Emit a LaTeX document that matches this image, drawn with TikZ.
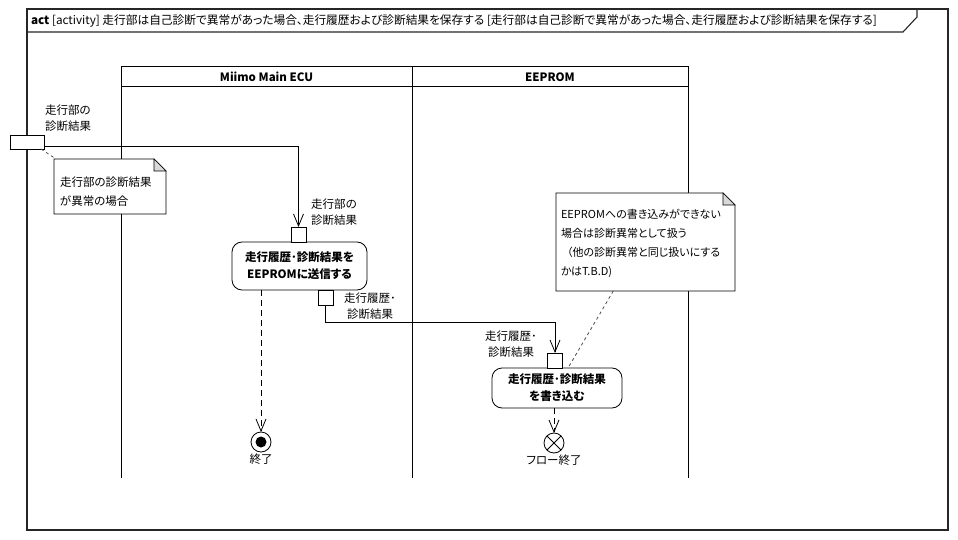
\documentclass[tikz,border=0pt]{standalone}
\usepackage{fontspec}
\setmainfont{Noto Sans CJK JP}[CharacterWidth=AlternateProportional]
\usetikzlibrary{arrows.meta,calc}

\begin{document}
\begin{tikzpicture}[x=1pt,y=-1pt,
  every node/.style={inner sep=0pt, outer sep=0pt},
  txt/.style={font=\fontsize{11.5}{16}\selectfont, align=center},
  notetxt/.style={font=\fontsize{11.5}{19}\selectfont, align=left},
  titletxt/.style={font=\fontsize{11.7}{14}\selectfont},
  lanehead/.style={font=\bfseries\fontsize{11.5}{14}\selectfont},
  frameline/.style={line width=1.1pt, black!85},
  laneline/.style={line width=1pt},
  pinbox/.style={draw, fill=white, line width=0.8pt, minimum width=15pt, minimum height=15pt},
  actionbox/.style={draw, fill=white, line width=0.8pt, rounded corners=10pt,
    align=center, font=\bfseries\fontsize{11.5}{17}\selectfont},
  notebg/.style={draw=none},
  flow/.style={line width=0.8pt, -{Straight Barb[length=12pt,width=10pt,line width=0.8pt]}},
  flowdash/.style={flow, dash pattern=on 6pt off 4pt},
  notelink/.style={line width=0.8pt, black!70, dash pattern=on 3pt off 3pt},
  finalnode/.style={draw, circle, fill=white, line width=0.8pt, minimum size=20pt}
]
\useasboundingbox (0,0) rectangle (958,540);

% diagram frame with its name tab
\draw[frameline] (27,9) rectangle (948,530);
\draw[frameline] (27,32) -- (903,32) -- (917,17) -- (917,9);
\node[titletxt, anchor=west] (title) at (31,21)
  {\textbf{act} [activity] 走行部は自己診断で異常があった場合、走行履歴および診断結果を保存する [走行部は自己診断で異常があった場合、走行履歴および診断結果を保存する]};

% swimlanes
\draw[laneline] (121,67) rectangle (688,87);
\draw[laneline] (121,87) -- (121,478);
\draw[laneline] (412,67) -- (412,478);
\draw[laneline] (688,87) -- (688,478);
\node[lanehead] (laneA) at (266.5,77) {Miimo Main ECU};
\node[lanehead] (laneB) at (550,77) {EEPROM};

% incoming object pin on the frame
\node[pinbox, minimum width=34pt, minimum height=14pt] (pin0) at (27,142) {};
\node[txt, align=left] (pin0l) at (68,118) {走行部の\\診断結果};

% note 1
\node[notebg, minimum width=112pt, minimum height=55pt, anchor=north west] (n1) at (54,159) {};
\draw[line width=0.8pt, fill=white] (n1.south west) -- (n1.north west) -- ([xshift=-12pt]n1.north east)
  -- ([yshift=-12pt]n1.north east) -- (n1.south east) -- cycle;
\draw[line width=0.6pt, fill=black!15] ([xshift=-12pt]n1.north east) -- ([xshift=-12pt,yshift=-12pt]n1.north east)
  -- ([yshift=-12pt]n1.north east) -- cycle;
\node[notetxt, anchor=west] (n1t) at (60,191.5) {走行部の診断結果\\が異常の場合};

% note 2
\node[notebg, minimum width=179pt, minimum height=98pt, anchor=north west] (n2) at (556,193) {};
\draw[line width=0.8pt, fill=white] (n2.south west) -- (n2.north west) -- ([xshift=-12pt]n2.north east)
  -- ([yshift=-12pt]n2.north east) -- (n2.south east) -- cycle;
\draw[line width=0.6pt, fill=black!15] ([xshift=-12pt]n2.north east) -- ([xshift=-12pt,yshift=-12pt]n2.north east)
  -- ([yshift=-12pt]n2.north east) -- cycle;
\node[notetxt, font=\fontsize{11}{19}\selectfont, anchor=west] (n2t) at (561,243.5)
  {EEPROMへの書き込みができない\\場合は診断異常として扱う\\\hspace*{6pt}（他の診断異常と同じ扱いにする\\かはT.B.D)};

% actions
\node[actionbox, minimum width=135pt, minimum height=48pt] (act1) at (299.5,266)
  {走行履歴･診断結果を\\EEPROMに送信する};
\node[actionbox, minimum width=130pt, minimum height=40pt] (act2) at (557,388)
  {走行履歴･診断結果\\を書き込む};

% pins of the actions
\node[pinbox] (pinA) at (298.5,234.5) {};
\node[txt] (pinAl) at (334,212) {走行部の\\診断結果};
\node[pinbox] (pinB) at (325.5,297.5) {};
\node[txt] (pinBl) at (370,306) {走行履歴･\\診断結果};
\node[pinbox] (pinC) at (555,360.5) {};
\node[txt] (pinCl) at (511,344) {走行履歴･\\診断結果};

% final nodes
\node[finalnode] (fin) at (261,442) {};
\fill (fin.center) circle (5.5);
\node[txt] (finl) at (261,459) {終了};
\node[finalnode] (ffin) at (554,443) {};
\draw[line width=0.8pt] (ffin.north east) -- (ffin.south west) (ffin.north west) -- (ffin.south east);
\node[txt] (ffinl) at (554,460) {フロー終了};

% flows
\draw[flow] ([yshift=-4pt]pin0.east) -| (pinA.north);
\draw[flow] (pinB.south) -- ++(0,17) -| (pinC.north);
\draw[flowdash] (fin.north |- act1.south) -- (fin.north);
\draw[flowdash] (ffin.north |- act2.south) -- (ffin.north);

% note anchors
\draw[notelink] ([xshift=-3pt]pin0.south east) -- ([xshift=2pt]n1.north west);
\draw[notelink] ($(n2.south west)!0.32!(n2.south east)$) -- ([xshift=11pt]act2.north);
\end{tikzpicture}
\end{document}
